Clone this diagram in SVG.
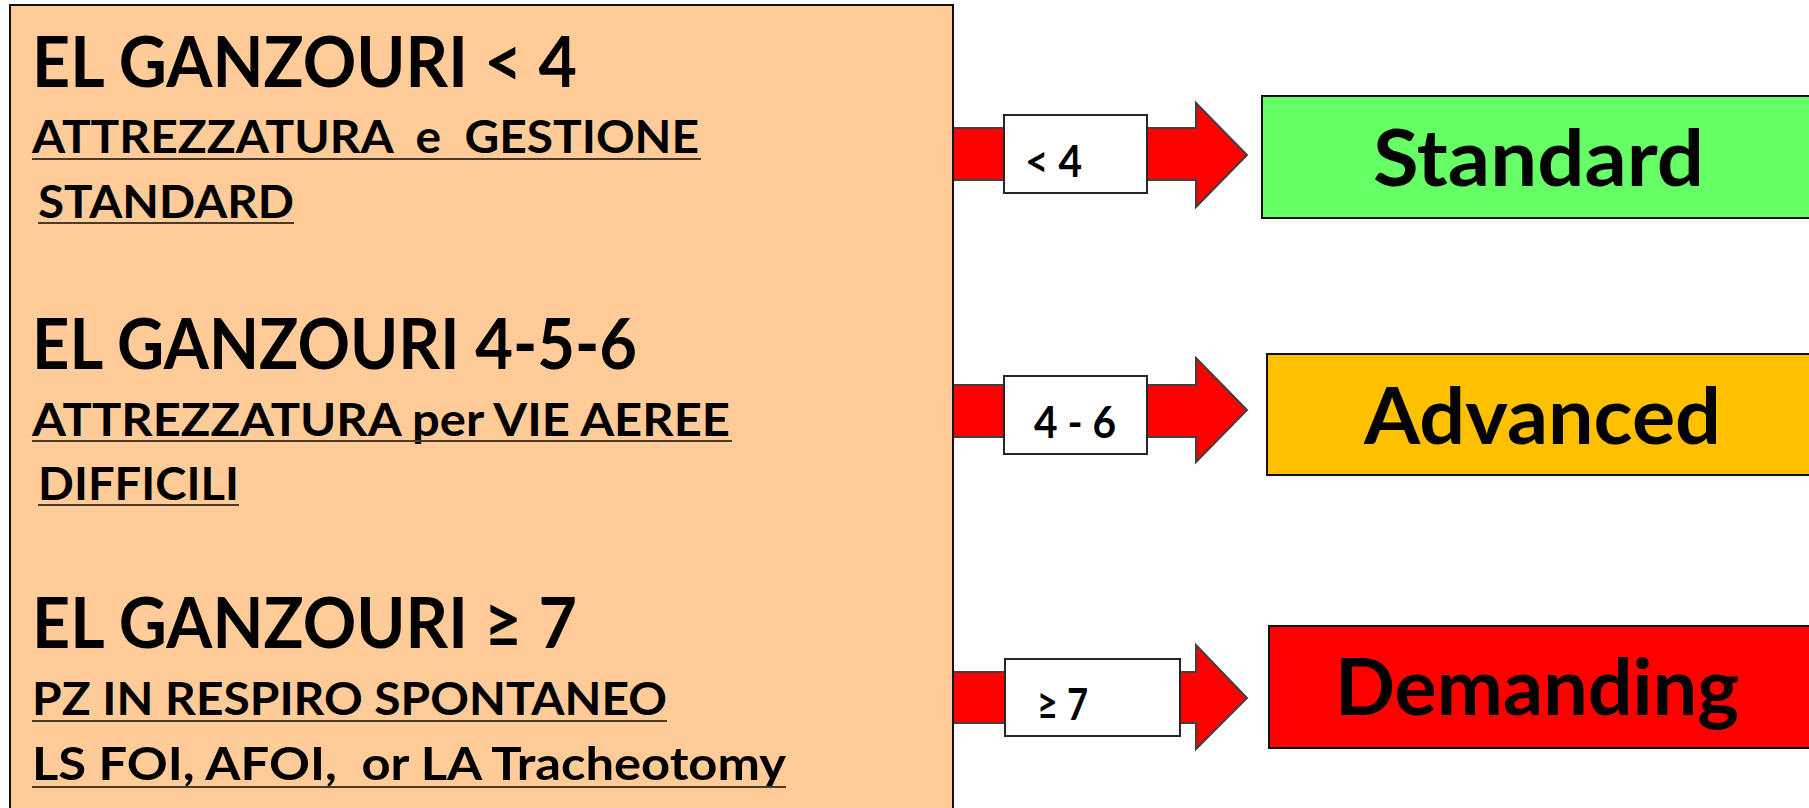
<svg xmlns="http://www.w3.org/2000/svg" width="1809" height="808" viewBox="0 0 1809 808">
<style>
text{font-family:Lato,"Liberation Sans",sans-serif;font-weight:bold;fill:#000}
.title{font-size:70px}
.sub{font-size:46px}
.big{font-size:78px}
.lbl{font-size:44px}
.ul{stroke:#4a3a2a;stroke-width:2}
.arrow{fill:#FF0000;stroke:#404040;stroke-width:2;stroke-linejoin:miter}
.lblbox{fill:#FFFFFF;stroke:#262626;stroke-width:2}
.box{stroke:#111;stroke-width:2}
</style>
<rect width="1809" height="808" fill="#FFFFFF"/>
<g id="connectors">
  <path class="arrow" d="M953,128 H1196 V103 L1247,155 L1196,207 V180 H953 Z"/>
  <rect class="lblbox" x="1004" y="115" width="143" height="78"/>
  <text class="lbl" x="1025" y="177" textLength="57" lengthAdjust="spacingAndGlyphs">&lt; 4</text>
  <path class="arrow" d="M953,385 H1196 V358 L1247,410 L1196,462 V437 H953 Z"/>
  <rect class="lblbox" x="1004" y="376" width="143" height="78"/>
  <text class="lbl" x="1034" y="438" textLength="82" lengthAdjust="spacingAndGlyphs">4 - 6</text>
  <path class="arrow" d="M953,672 H1196 V645 L1247,698 L1196,749 V723 H953 Z"/>
  <rect class="lblbox" x="1005" y="659" width="175" height="77"/>
  <text class="lbl" x="1037" y="720" textLength="51" lengthAdjust="spacingAndGlyphs">≥ 7</text>
</g>
<g id="criteria">
  <rect class="box" x="10" y="5" width="943" height="820" fill="#FFCC99"/>
  <text class="title" x="32" y="87" textLength="545" lengthAdjust="spacingAndGlyphs">EL GANZOURI &lt; 4</text>
  <text class="sub" x="32" y="153" textLength="667" lengthAdjust="spacingAndGlyphs" xml:space="preserve">ATTREZZATURA  e  GESTIONE</text>
  <line class="ul" x1="32" y1="159" x2="701" y2="159"/>
  <text class="sub" x="38" y="218" textLength="256" lengthAdjust="spacingAndGlyphs">STANDARD</text>
  <line class="ul" x1="38" y1="223" x2="294" y2="223"/>
  <text class="title" x="32" y="369" textLength="605" lengthAdjust="spacingAndGlyphs">EL GANZOURI 4-5-6</text>
  <text class="sub" x="32" y="436" textLength="698" lengthAdjust="spacingAndGlyphs">ATTREZZATURA per VIE AEREE</text>
  <line class="ul" x1="32" y1="441" x2="732" y2="441"/>
  <text class="sub" x="38" y="500" textLength="201" lengthAdjust="spacingAndGlyphs">DIFFICILI</text>
  <line class="ul" x1="38" y1="505" x2="239" y2="505"/>
  <text class="title" x="32" y="648" textLength="545" lengthAdjust="spacingAndGlyphs">EL GANZOURI ≥ 7</text>
  <text class="sub" x="32" y="715" textLength="635" lengthAdjust="spacingAndGlyphs">PZ IN RESPIRO SPONTANEO</text>
  <line class="ul" x1="32" y1="721" x2="667" y2="721"/>
  <text class="sub" x="32" y="780" textLength="754" lengthAdjust="spacingAndGlyphs" xml:space="preserve">LS FOI, AFOI,  or LA Tracheotomy</text>
  <line class="ul" x1="32" y1="787" x2="786" y2="787"/>
</g>
<g id="standard">
  <rect class="box" x="1262" y="96" width="580" height="122" fill="#66FF66"/>
  <text class="big" x="1373" y="186" textLength="331" lengthAdjust="spacingAndGlyphs">Standard</text>
</g>
<g id="advanced">
  <rect class="box" x="1267" y="354" width="580" height="121" fill="#FFC000"/>
  <text class="big" x="1364" y="444" textLength="357" lengthAdjust="spacingAndGlyphs">Advanced</text>
</g>
<g id="demanding">
  <rect class="box" x="1269" y="626" width="580" height="122" fill="#FF0000"/>
  <text class="big" x="1335" y="715" textLength="404" lengthAdjust="spacingAndGlyphs">Demanding</text>
</g>
</svg>
